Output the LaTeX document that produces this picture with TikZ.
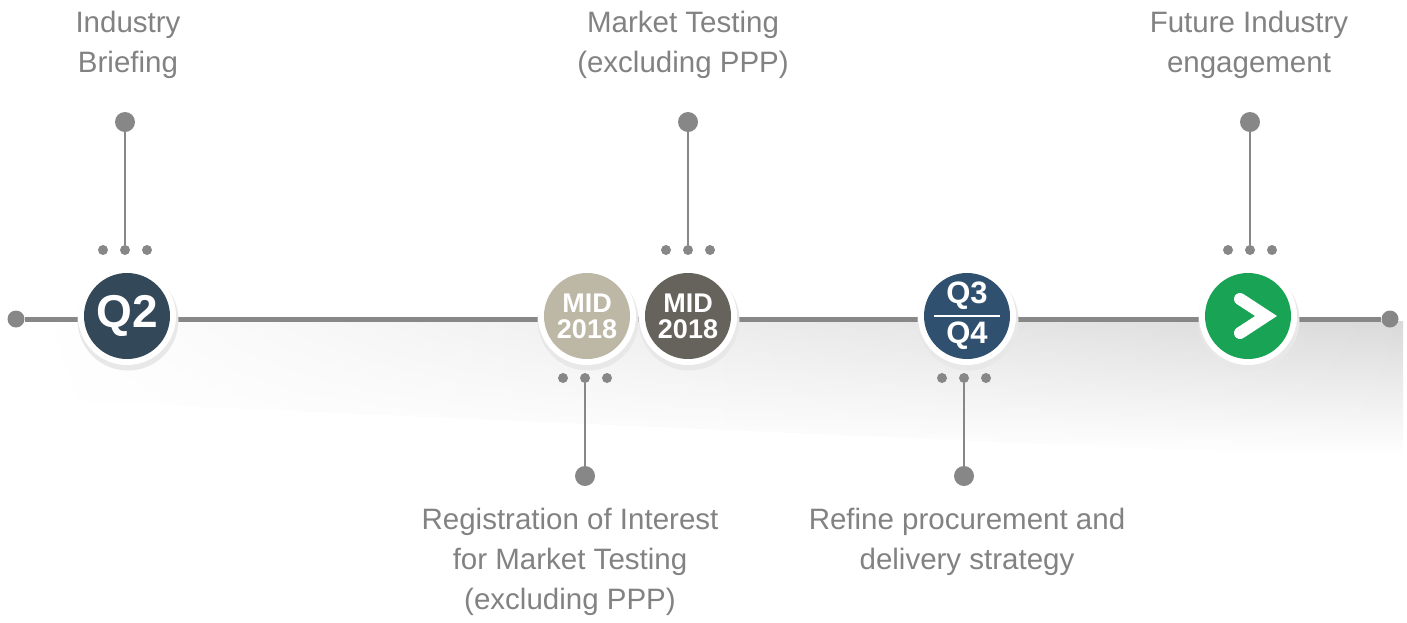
\documentclass[tikz,border=0pt]{standalone}
\usepackage{fontspec}
\setmainfont{Liberation Sans}
\usetikzlibrary{calc,fadings}
\definecolor{linegray}{HTML}{878787}
\definecolor{txtgray}{HTML}{828282}
\definecolor{cQtwo}{HTML}{33495A}
\definecolor{cMidA}{HTML}{BDB8A6}
\definecolor{cMidB}{HTML}{66625C}
\definecolor{cQthree}{HTML}{30506F}
\definecolor{cGreen}{HTML}{19A355}
\tikzfading[name=myfadeleft, left color=transparent!100, right color=transparent!0]
\tikzset{
  dotsm/.style={circle,fill=linegray,inner sep=0pt,minimum size=10pt},
  dotbig/.style={circle,fill=linegray,inner sep=0pt,minimum size=20pt},
  stem/.style={draw=linegray,line width=2.2pt},
  label/.style={text=txtgray,font=\fontsize{29.5}{40}\selectfont,align=center,inner sep=0pt},
  ring/.style={circle,fill=white,inner sep=0pt,minimum size=98pt},
  disc/.style={circle,inner sep=0pt,minimum size=86pt,text=white,font=\bfseries,align=center}
}
\begin{document}
\begin{tikzpicture}[x=1pt,y=-1pt]
\useasboundingbox (0,0) rectangle (1407,622);
% shadow under the line
\begin{scope}
\clip (40,321) -- (1407,321) -- (1407,460) -- (40,400) -- cycle;
\shade[top color=black!15,bottom color=white,path fading=myfadeleft,fit fading=true] (40,321) rectangle (1407,455);
\end{scope}
% main line
\node[dotbig,minimum size=17pt] (L) at (16,319) {};
\node[dotbig,minimum size=17pt] (R) at (1390,319) {};
\draw[linegray,line width=5pt] (L) -- (R);
% circles: shadows, rings, discs
\foreach \x/\n in {127/a,587/b,688/c,967/d,1248/e}{
  \fill[black!9] (\x+1,320) circle (50.5pt);
  \node[ring] (ring\n) at (\x,316) {};
}
\node[disc,fill=cQtwo,font=\bfseries\fontsize{46}{46}\selectfont] (q2) at (127,316) {Q2};
\node[disc,fill=cMidA] (midA) at (587,316) {};
\node[disc,fill=cMidB] (midB) at (688,316) {};
\foreach \n in {midA,midB}{
  \node[text=white,font=\bfseries\fontsize{27}{27}\selectfont,inner sep=0pt] at ($(\n.center)+(0,-13)$) {MID};
  \node[text=white,font=\bfseries\fontsize{27}{27}\selectfont,inner sep=0pt] at ($(\n.center)+(0,13)$) {2018};
}
\node[disc,fill=cQthree] (q34) at (967,316) {};
\node[text=white,font=\bfseries\fontsize{31}{31}\selectfont,inner sep=0pt] (q3) at (967,296) {Q3};
\node[text=white,font=\bfseries\fontsize{31}{31}\selectfont,inner sep=0pt] (q4) at (967,336) {Q4};
\draw[white,line width=2.5pt] (q34.center) ++(-33,0) -- ++(66,0);
\node[disc,fill=cGreen] (go) at (1248,316) {};
\draw[white,line width=12pt,line cap=round,line join=miter] (1240,299) -- (1266,316) -- (1240,333);
% three dots + stems (top)
\foreach \x/\n in {125/a,688/c,1250/e}{
  \node[dotsm] (tl\n) at (\x-22,250) {};
  \node[dotsm] (tm\n) at (\x,250) {};
  \node[dotsm] (tr\n) at (\x+22,250) {};
  \node[dotbig] (tt\n) at (\x,122) {};
  \draw[stem] (tm\n) -- (tt\n);
}
% three dots + stems (bottom)
\foreach \x/\n in {585/b,964/d}{
  \node[dotsm] (bl\n) at (\x-22,378) {};
  \node[dotsm] (bm\n) at (\x,378) {};
  \node[dotsm] (br\n) at (\x+22,378) {};
  \node[dotbig] (bb\n) at (\x,476) {};
  \draw[stem] (bm\n) -- (bb\n);
}
% labels
\node[label,anchor=north] (t1) at (128,11) {Industry\\Briefing};
\node[label,anchor=north] (t2) at (683,11) {Market Testing\\(excluding PPP)};
\node[label,anchor=north] (t3) at (1249,11) {Future Industry\\engagement};
\node[label,anchor=north] (t4) at (570,508) {Registration of Interest\\for Market Testing\\(excluding PPP)};
\node[label,anchor=north] (t5) at (967,508) {Refine procurement and\\delivery strategy};
\end{tikzpicture}
\end{document}
